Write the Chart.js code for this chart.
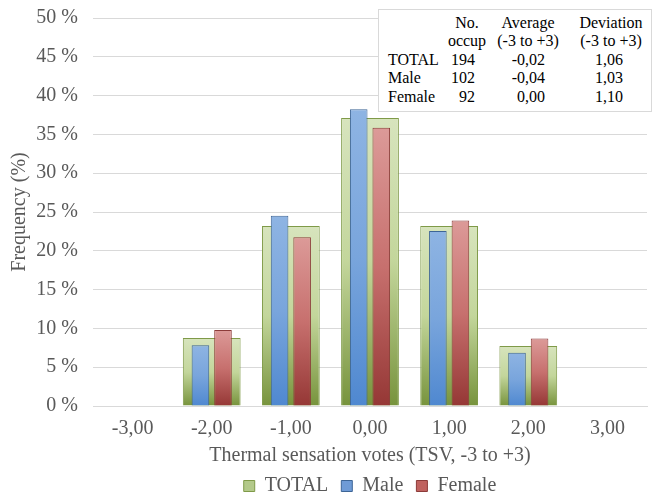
<!DOCTYPE html>
<html>
<head>
<meta charset="utf-8">
<script src="https://cdn.jsdelivr.net/npm/chart.js@4.4.1/dist/chart.umd.min.js"></script>
<style>
  html, body { margin: 0; padding: 0; background: #ffffff; }
  #wrap { position: relative; width: 657px; height: 497px; overflow: hidden; }
  #c { position: absolute; left: 0; top: 0; }
  #tbl { position: absolute; left: 378px; top: 9px; width: 272px; height: 101px;
         background: #fff; border: 1px solid #d9d9d9; font-size: 16px; color: #000; }
  #tbl div { position: absolute; white-space: nowrap; line-height: 18px; }
</style>
</head>
<body>
<div id="wrap">
  <canvas id="c" width="657" height="497"></canvas>
  <div id="tbl"></div>
</div>
<script>
// ---- data ----
const categories = ['-3,00', '-2,00', '-1,00', '0,00', '1,00', '2,00', '3,00'];
const totalPct  = [0, 8.76, 23.20, 37.11, 23.20, 7.73, 0];
const malePct   = [0, 7.84, 24.51, 38.24, 22.55, 6.86, 0];
const femalePct = [0, 9.78, 21.74, 35.87, 23.91, 8.70, 0];
const seriesNames = ['TOTAL', 'Male', 'Female'];
const yTicks = [0, 5, 10, 15, 20, 25, 30, 35, 40, 45, 50];

// summary table
const tableHead1 = ['No.', 'Average', 'Deviation'];
const tableHead2 = ['occup', '(-3 to +3)', '(-3 to +3)'];
const tableGroups = ['TOTAL', 'Male', 'Female'];
const tableN   = ['194', '102', '92'];
const tableAvg = ['-0,02', '-0,04', '0,00'];
const tableDev = ['1,06', '1,03', '1,10'];

// ---- pick an installed serif font ----
function pickSerif() {
  const c = document.createElement('canvas').getContext('2d');
  const s = 'Thermal sensation votes (TSV) 0123456789 %';
  const base = {};
  ['monospace', 'sans-serif'].forEach(b => { c.font = '40px ' + b; base[b] = c.measureText(s).width; });
  const cands = ['Liberation Serif', 'Tinos', 'Times New Roman', 'Times', 'DejaVu Serif', 'Noto Serif'];
  for (const f of cands) {
    let ok = true;
    for (const b of ['monospace', 'sans-serif']) {
      c.font = '40px "' + f + '", ' + b;
      if (Math.abs(c.measureText(s).width - base[b]) < 0.01) ok = false;
    }
    if (ok) return '"' + f + '", serif';
  }
  return 'serif';
}
const FONT = pickSerif();
document.getElementById('tbl').style.fontFamily = FONT;

// ---- styles ----
const GREY = '#595959';
const FS = 20;
const palette = {
  TOTAL:  { top: '#d7e4bd', mid: '#c3d69b', bot: '#77933c', border: '#7f9a48', legend: '#b3c98a' },
  Male:   { top: '#8eb4e3', mid: '#79a5dc', bot: '#4f88d0', border: '#3d6596', legend: '#6f9bd6' },
  Female: { top: '#dc9a98', mid: '#c7706e', bot: '#953735', border: '#8c3b39', legend: '#c0625f' }
};

function barGradient(name) {
  const p = palette[name];
  return function (ctx) {
    const chart = ctx.chart;
    const y = chart.scales && chart.scales.y;
    if (ctx.type !== 'data' || !y) return p.legend;
    const top = y.getPixelForValue(ctx.raw);
    const bot = y.getPixelForValue(0);
    if (!isFinite(top) || !isFinite(bot) || Math.abs(bot - top) < 1) return p.legend;
    const g = chart.ctx.createLinearGradient(0, top, 0, bot);
    g.addColorStop(0, p.top);
    g.addColorStop(0.5, p.mid);
    g.addColorStop(1, p.bot);
    return g;
  };
}

const datasets = [
  { label: seriesNames[0], data: totalPct, grouped: false, order: 2,
    categoryPercentage: 1.0, barPercentage: 0.73,
    backgroundColor: barGradient('TOTAL'), borderColor: palette.TOTAL.border, borderWidth: 1 },
  { label: seriesNames[1], data: malePct, order: 0,
    categoryPercentage: 0.57, barPercentage: 0.78,
    backgroundColor: barGradient('Male'), borderColor: palette.Male.border, borderWidth: 1 },
  { label: seriesNames[2], data: femalePct, order: 1,
    categoryPercentage: 0.57, barPercentage: 0.78,
    backgroundColor: barGradient('Female'), borderColor: palette.Female.border, borderWidth: 1 }
];

new Chart(document.getElementById('c'), {
  type: 'bar',
  data: { labels: categories, datasets: datasets },
  options: {
    responsive: false,
    animation: false,
    devicePixelRatio: 1,
    layout: { padding: { top: 18, right: 10, left: 0, bottom: -9 } },
    plugins: {
      tooltip: { enabled: false },
      legend: {
        position: 'bottom',
        fullSize: false,
        labels: {
          font: { family: FONT, size: FS },
          color: GREY,
          boxWidth: 11, boxHeight: 11, padding: 13,
          sort: (a, b) => a.datasetIndex - b.datasetIndex,
          generateLabels: (chart) => {
            const items = Chart.defaults.plugins.legend.labels.generateLabels(chart);
            items.forEach(it => {
              const p = palette[seriesNames[it.datasetIndex]];
              it.fillStyle = p.legend; it.strokeStyle = p.border; it.lineWidth = 1;
            });
            return items;
          }
        }
      }
    },
    scales: {
      x: {
        afterFit: (s) => { s.height = 57; },
        grid: { display: false, drawTicks: false },
        border: { display: true, color: '#d9d9d9' },
        ticks: { font: { family: FONT, size: FS }, color: GREY, padding: 11, maxRotation: 0 },
        title: { display: true, text: 'Thermal sensation votes (TSV, -3 to +3)',
                 font: { family: FONT, size: FS }, color: GREY, padding: { top: 0, bottom: -5 } }
      },
      y: {
        min: 0, max: 50,
        afterBuildTicks: (s) => { s.ticks = yTicks.map(v => ({ value: v })); },
        afterFit: (s) => { s.width = 93; s.paddingTop = 0; s.paddingBottom = 0; },
        grid: { color: '#d9d9d9', lineWidth: 1, drawTicks: false },
        border: { display: false },
        ticks: { font: { family: FONT, size: FS }, color: GREY, padding: 15,
                 callback: (v) => v + ' %' },
        title: { display: true, text: 'Frequency (%)',
                 font: { family: FONT, size: FS }, color: GREY, padding: { top: 8, bottom: 0 } }
      }
    }
  }
});

// ---- summary table (real text) ----
(function () {
  const tbl = document.getElementById('tbl');
  const ox = 379, oy = 10; // page offset of table inner box
  function put(text, x, baseline, align) {
    const d = document.createElement('div');
    d.textContent = text;
    d.style.top = (baseline - 14.4 - oy) + 'px';
    if (align === 'left') d.style.left = (x - ox) + 'px';
    else if (align === 'right') d.style.right = (ox + 272 - x) + 'px';
    else { d.style.left = (x - ox) + 'px'; d.style.transform = 'translateX(-50%)'; }
    tbl.appendChild(d);
  }
  const headCenters = [467, 528, 611];
  tableHead1.forEach((t, i) => put(t, headCenters[i], 28, 'center'));
  tableHead2.forEach((t, i) => put(t, headCenters[i], 46.5, 'center'));
  const rowBase = [65, 83.5, 102];
  tableGroups.forEach((g, r) => {
    put(g, 388, rowBase[r], 'left');
    put(tableN[r], 475, rowBase[r], 'right');
    put(tableAvg[r], 545, rowBase[r], 'right');
    put(tableDev[r], 623, rowBase[r], 'right');
  });
})();
</script>
</body>
</html>
